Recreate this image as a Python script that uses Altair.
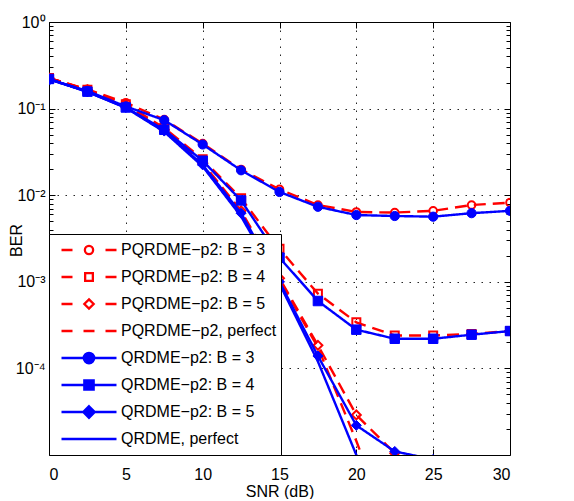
import altair as alt
import pandas as pd

# ---------------- data ----------------
snr = [0, 2.5, 5, 7.5, 10, 12.5, 15, 17.5, 20, 22.5, 25, 27.5, 30]

series_names = [
    "PQRDME\u2212p2: B = 3", "PQRDME\u2212p2: B = 4", "PQRDME\u2212p2: B = 5", "PQRDME\u2212p2, perfect",
    "QRDME\u2212p2: B = 3", "QRDME\u2212p2: B = 4", "QRDME\u2212p2: B = 5", "QRDME, perfect",
]

pq_b3 = [0.225, 0.167, 0.117, 0.0745, 0.0395, 0.0198, 0.0117, 0.0077, 0.0064, 0.0063, 0.0066, 0.0077, 0.0082]
pq_b4 = [0.225, 0.165, 0.112, 0.060, 0.026, 0.0092, 0.0024, 0.00073, 0.00034, 0.00024, 0.00024, 0.00025, 0.00027]
pq_b5 = [0.225, 0.164, 0.110, 0.057, 0.0235, 0.0066, 0.0011, 0.000185, 0.000029, 0.0000105, 0.000004]
pq_perf = [0.225, 0.163, 0.109, 0.056, 0.023, 0.0063, 0.00105, 0.000175, 0.0000145, 0.000001]
qr_b3 = [0.216, 0.160, 0.106, 0.0735, 0.0385, 0.0194, 0.0109, 0.00735, 0.0059, 0.00575, 0.00565, 0.0062, 0.0066]
qr_b4 = [0.220, 0.157, 0.103, 0.057, 0.025, 0.0087, 0.0019, 0.00060, 0.00028, 0.00022, 0.00022, 0.000245, 0.00027]
qr_b5 = [0.220, 0.156, 0.103, 0.055, 0.0224, 0.0062, 0.00100, 0.000139, 0.000022, 0.000011, 0.0000089]
qr_perf = [0.220, 0.156, 0.102, 0.054, 0.0215, 0.0057, 0.00095, 0.00012, 0.0000100, 0.0000003]

values = [pq_b3, pq_b4, pq_b5, pq_perf, qr_b3, qr_b4, qr_b5, qr_perf]

y_major = [1, 0.1, 0.01, 0.001, 0.0001]
y_minor = [k * 10.0 ** e for e in range(-5, 0) for k in range(2, 10)]
x_ticks = [0, 5, 10, 15, 20, 25, 30]

# ---------------- styles ----------------
RED = "#ff0000"
BLUE = "#0000ff"
W, H = 461, 433
FONT = "Liberation Sans"

styles = [
    dict(color=RED, dash=[12, 7], shape="circle", filled=False, size=58),
    dict(color=RED, dash=[12, 7], shape="square", filled=False, size=64),
    dict(color=RED, dash=[12, 7], shape="diamond", filled=False, size=80),
    dict(color=RED, dash=[12, 7], shape=None, filled=False, size=0),
    dict(color=BLUE, dash=[1, 0], shape="circle", filled=True, size=85),
    dict(color=BLUE, dash=[1, 0], shape="square", filled=True, size=90),
    dict(color=BLUE, dash=[1, 0], shape="diamond", filled=True, size=100),
    dict(color=BLUE, dash=[1, 0], shape=None, filled=True, size=0),
]


def circ(r):
    return f"M{r},0A{r},{r} 0 1,1 {-r},0A{r},{r} 0 1,1 {r},0Z"


def sq(h):
    return f"M{-h},{-h}H{h}V{h}H{-h}Z"


def dia(h):
    return f"M0,{-h}L{h},0L0,{h}L{-h},0Z"


red_line = "M-1,0H-0.6M0.6,0H1"
blue_line = "M-1,0H1"
legend_paths = [
    red_line + circ(0.15),
    red_line + sq(0.14),
    red_line + dia(0.17),
    "M-1,0H-0.6M-0.2,0H0.2M0.6,0H1",
    blue_line + circ(0.19),
    blue_line + sq(0.17),
    blue_line + dia(0.21),
    blue_line,
]
legend_stroke = [RED] * 4 + [BLUE] * 4
legend_fill = ["white"] * 4 + [BLUE] * 4

xs = alt.Scale(domain=[0, 30], nice=False, zero=False)
ys = alt.Scale(type="log", domain=[1e-5, 1], nice=False)

layers = []

# ---------------- axis layers ----------------
dummy = pd.DataFrame({"snr": [-100.0], "ber": [0.1]})

label_expr = ("datum.value > 0.5 ? '10\u2070' : datum.value > 0.05 ? '10\u207b\u00b9' : "
              "datum.value > 0.005 ? '10\u207b\u00b2' : datum.value > 0.0005 ? '10\u207b\u00b3' : '10\u207b\u2074'")

grid_kw = dict(grid=True, gridColor="#000000", gridDash=[1.5, 6.5], gridWidth=1, gridOpacity=0.85)

ax_x_main = alt.Axis(values=x_ticks, format="d", orient="bottom", domain=False, ticks=False, tickSize=0,
                     labelFontSize=16, labelFont=FONT, labelColor="black", labelPadding=11,
                     title="SNR (dB)", titleFontSize=16, titleFont=FONT, titleFontWeight="normal",
                     titleColor="black", titleX=W / 2, titleY=41, titleBaseline="alphabetic", **grid_kw)
ax_y_main = alt.Axis(values=y_major, labelExpr=label_expr, orient="left", domain=False, ticks=False,
                     tickSize=0, labelFontSize=16, labelFont=FONT, labelColor="black", labelPadding=4,
                     title="BER", titleFontSize=16, titleFont=FONT, titleFontWeight="normal",
                     titleColor="black", titleX=-28, titleY=218, titleBaseline="alphabetic", **grid_kw)


def tick_axis(orient, vals, size):
    return alt.Axis(orient=orient, values=vals, offset=-(H if orient in ("top", "bottom") else W),
                    labels=False, domain=False, grid=False, ticks=True, tickSize=size,
                    tickColor="black", tickWidth=1, title=None)


xt_in = x_ticks[1:-1]

axis_defs = [
    (ax_x_main, ax_y_main),
    (tick_axis("top", xt_in, 6), tick_axis("right", y_major, 6)),
    (tick_axis("bottom", xt_in, 6), tick_axis("right", y_minor, 4)),
    (None, tick_axis("left", y_major, 6)),
    (None, tick_axis("left", y_minor, 4)),
]
for ax_x, ax_y in axis_defs:
    layers.append(
        alt.Chart(dummy).mark_point(opacity=0, clip=True).encode(
            x=alt.X("snr:Q", scale=xs, axis=ax_x),
            y=alt.Y("ber:Q", scale=ys, axis=ax_y),
        )
    )

# ---------------- data layers ----------------
for name, vals, st in zip(series_names, values, styles):
    df = pd.DataFrame({"snr": snr[: len(vals)], "ber": vals})
    line = alt.Chart(df).mark_line(color=st["color"], strokeDash=st["dash"], strokeWidth=2.4,
                                   clip=True).encode(
        x=alt.X("snr:Q", scale=xs, axis=None),
        y=alt.Y("ber:Q", scale=ys, axis=None),
    )
    layers.append(line)
    if st["shape"]:
        if st["filled"]:
            mk = dict(shape=st["shape"], filled=True, fill=st["color"], stroke=st["color"],
                      strokeWidth=1, size=st["size"], opacity=1, clip=True)
        else:
            mk = dict(shape=st["shape"], filled=False, stroke=st["color"], fill="white", fillOpacity=0,
                      strokeWidth=2, size=st["size"], opacity=1, clip=True)
        pts = alt.Chart(df).mark_point(**mk).encode(
            x=alt.X("snr:Q", scale=xs, axis=None),
            y=alt.Y("ber:Q", scale=ys, axis=None),
        )
        layers.append(pts)

# ---------------- legend layer (points outside the domain, clipped) ----------------
SYM = 55
leg = alt.Legend(title=None, orient="bottom-left", offset=0, fillColor="white", strokeColor="black",
                 padding=4, symbolOffset=7, labelOffset=3, labelFontSize=16, labelFont=FONT,
                 labelColor="black", clipHeight=24, rowPadding=3, symbolSize=SYM * SYM,
                 symbolStrokeWidth=2.3, labelLimit=400, zindex=1)
leg_df = pd.DataFrame({"series": series_names, "snr": [-100.0] * 8, "ber": [0.1] * 8})
legend_layer = alt.Chart(leg_df).mark_point(size=SYM * SYM, strokeWidth=2.3, opacity=1, clip=True).encode(
    x=alt.X("snr:Q", scale=xs, axis=None),
    y=alt.Y("ber:Q", scale=ys, axis=None),
    shape=alt.Shape("series:N", scale=alt.Scale(domain=series_names, range=legend_paths), legend=leg),
    stroke=alt.Stroke("series:N", scale=alt.Scale(domain=series_names, range=legend_stroke), legend=leg),
    fill=alt.Fill("series:N", scale=alt.Scale(domain=series_names, range=legend_fill), legend=leg),
)
layers.append(legend_layer)

chart = alt.layer(*layers).resolve_axis(x="independent", y="independent").properties(
    width=W, height=H,
    autosize=alt.AutoSizeParams(type="none"),
    padding={"left": 41, "top": 14, "right": 30, "bottom": 44},
    background="white",
).configure_view(stroke="black", strokeWidth=1)

chart.save("out.html", embed_options={"renderer": "svg", "actions": False})
